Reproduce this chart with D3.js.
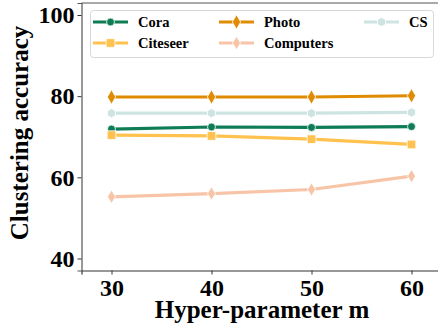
<!DOCTYPE html>
<html>
<head>
<meta charset="utf-8">
<script src="https://cdn.jsdelivr.net/npm/d3@7"></script>
<style>
body { margin: 0; background: #fff; }
svg text { font-family: "Liberation Serif", "Times New Roman", serif; font-weight: bold; }
</style>
</head>
<body>
<svg width="438" height="331"></svg>
<script>
const width = 438;
const height = 331;

// data
const mValues = [30, 40, 50, 60];
const cora = [71.9, 72.4, 72.3, 72.5];
const citeseer = [70.4, 70.2, 69.4, 68.1];
const photo = [79.8, 79.8, 79.8, 80.1];
const computers = [55.2, 56.0, 57.0, 60.3];
const cs = [75.8, 75.8, 75.8, 76.0];
const yTicks = [40, 60, 80, 100];

const hexagon = {
  draw(ctx, size) {
    const r = Math.sqrt(size / 2.598);
    for (let i = 0; i < 6; i++) {
      const a = Math.PI / 6 + i * Math.PI / 3;
      const x = r * Math.cos(a), y = r * Math.sin(a);
      if (i === 0) ctx.moveTo(x, y); else ctx.lineTo(x, y);
    }
    ctx.closePath();
  }
};
const thinDiamond = {
  draw(ctx, size) {
    const r = Math.sqrt(size) * 0.8;
    ctx.moveTo(0, -r);
    ctx.lineTo(r * 0.6, 0);
    ctx.lineTo(0, r);
    ctx.lineTo(-r * 0.6, 0);
    ctx.closePath();
  }
};

const series = [
  {name: "Cora", values: cora, color: "#0e7c55", symbol: d3.symbolCircle, size: 50},
  {name: "Photo", values: photo, color: "#df8b03", symbol: d3.symbolDiamond, size: 60},
  {name: "CS", values: cs, color: "#cde4e3", symbol: hexagon, size: 55},
  {name: "Citeseer", values: citeseer, color: "#ffc24e", symbol: d3.symbolSquare, size: 75},
  {name: "Computers", values: computers, color: "#f7c4a7", symbol: thinDiamond, size: 70}
];

const margin = {top: 3, left: 81.5, bottom: 270.5};

const svg = d3.select("svg");

const x = d3.scaleLinear()
  .domain([27, 63])
  .range([margin.left, 441.5]);

const y = d3.scaleLinear()
  .domain([37.04, 102.96])
  .range([margin.bottom, margin.top]);

// axes
svg.append("g")
  .attr("transform", `translate(0,${margin.bottom})`)
  .call(d3.axisBottom(x).tickValues(mValues).tickSize(4).tickPadding(4))
  .call(g => g.selectAll("text").attr("font-size", 24).attr("fill", "#000").style("font-family", "Liberation Serif").style("font-weight", "bold"))
  .call(g => g.select(".domain").attr("stroke", "#333").attr("stroke-width", 1.2))
  .call(g => g.selectAll(".tick line").attr("stroke", "#333"));

svg.append("g")
  .attr("transform", `translate(${margin.left},0)`)
  .call(d3.axisLeft(y).tickValues(yTicks).tickSize(4).tickPadding(3))
  .call(g => g.selectAll("text").attr("font-size", 24).attr("fill", "#000").style("font-family", "Liberation Serif").style("font-weight", "bold"))
  .call(g => g.select(".domain").attr("stroke", "#555").attr("stroke-width", 1.2))
  .call(g => g.selectAll(".tick line").attr("stroke", "#333"));

// top spine
svg.append("line")
  .attr("x1", margin.left).attr("x2", width)
  .attr("y1", margin.top).attr("y2", margin.top)
  .attr("stroke", "#555").attr("stroke-width", 1.2);

const line = d3.line()
  .x((d, i) => x(mValues[i]))
  .y(d => y(d));

series.forEach(s => {
  svg.append("path")
    .datum(s.values)
    .attr("fill", "none")
    .attr("stroke", s.color)
    .attr("stroke-width", 3.2)
    .attr("d", line);
  svg.selectAll(null)
    .data(s.values)
    .enter().append("path")
    .attr("transform", (d, i) => `translate(${x(mValues[i])},${y(d)})`)
    .attr("d", d3.symbol().type(s.symbol).size(s.size))
    .attr("fill", s.color)
    .attr("stroke", "#fff")
    .attr("stroke-width", 0.8);
});

// legend
svg.append("rect")
  .attr("x", 90.5).attr("y", 10.5)
  .attr("width", 343).attr("height", 47)
  .attr("rx", 3)
  .attr("fill", "#fff")
  .attr("stroke", "#d8d8d8");

const legendPos = [[93, 22], [219, 22], [364, 22], [93, 43], [219, 43]];
series.forEach((s, i) => {
  const [lx, ly] = legendPos[i];
  const g = svg.append("g").attr("transform", `translate(${lx},${ly})`);
  g.append("line")
    .attr("x1", 0).attr("x2", 35)
    .attr("stroke", s.color).attr("stroke-width", 3.2);
  g.append("path")
    .attr("transform", "translate(17.5,0)")
    .attr("d", d3.symbol().type(s.symbol).size(s.size))
    .attr("fill", s.color)
    .attr("stroke", "#fff")
    .attr("stroke-width", 0.8);
  g.append("text")
    .attr("x", 45).attr("y", 5)
    .attr("font-size", 14.5)
    .text(s.name);
});

// axis titles
svg.append("text")
  .attr("x", 262).attr("y", 318)
  .attr("text-anchor", "middle")
  .attr("font-size", 25)
  .text("Hyper-parameter m");

svg.append("text")
  .attr("transform", "translate(28,133) rotate(-90)")
  .attr("text-anchor", "middle")
  .attr("font-size", 25)
  .text("Clustering accuracy");
</script>
</body>
</html>
